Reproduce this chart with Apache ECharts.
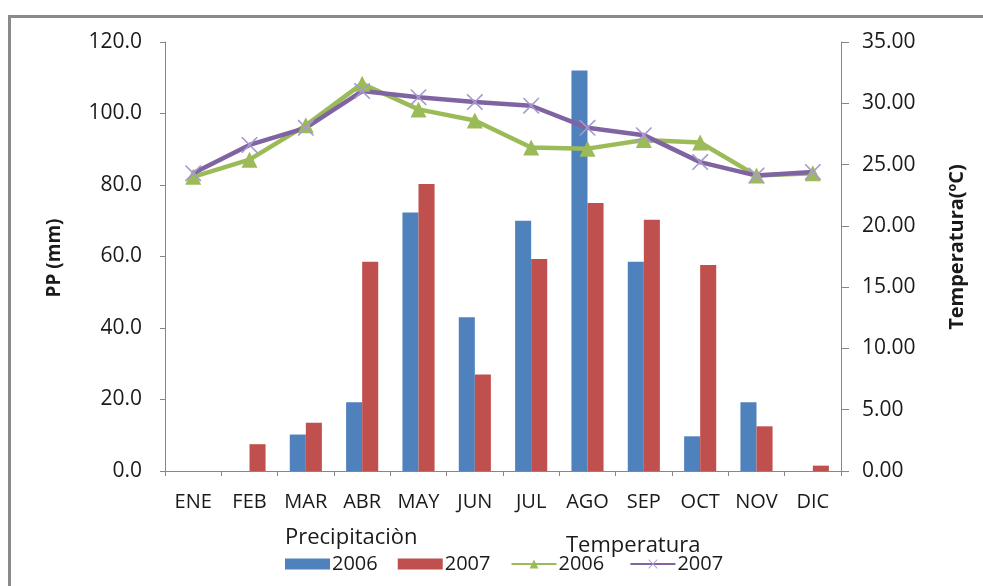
<!DOCTYPE html>
<html>
<head>
<meta charset="utf-8">
<title>Precipitación y Temperatura 2006-2007</title>
<script src="https://cdn.jsdelivr.net/npm/echarts@6/dist/echarts.min.js"></script>
<style>
  html, body { margin: 0; padding: 0; background: #ffffff; }
  #chart { width: 983px; height: 586px; }
</style>
</head>
<body>
<div id="chart"></div>
<script>
// Monthly categories
var months = ['ENE', 'FEB', 'MAR', 'ABR', 'MAY', 'JUN', 'JUL', 'AGO', 'SEP', 'OCT', 'NOV', 'DIC'];

// Precipitation (mm)
var pp2006 = [0, 0, 10.2, 19.2, 72.3, 43.0, 70.0, 112.0, 58.5, 9.7, 19.2, 0];
var pp2007 = [0, 7.5, 13.5, 58.5, 80.3, 27.0, 59.3, 75.0, 70.3, 57.6, 12.5, 1.5];

// Temperature (ºC)
var temp2006 = [24.0, 25.4, 28.2, 31.6, 29.5, 28.6, 26.4, 26.3, 27.0, 26.8, 24.1, 24.3];
var temp2007 = [24.3, 26.6, 28.0, 31.0, 30.5, 30.1, 29.8, 28.0, 27.4, 25.2, 24.1, 24.4];

var FONT = 'Open Sans';
var AXIS_GREY = '#868686';
var TEXT = '#1a1a1a';

// thin "x" marker
var crossPath = 'path://M0,0 L1.4,0 L10,8.6 L18.6,0 L20,0 L20,1.4 L11.4,10 L20,18.6 L20,20 L18.6,20 L10,11.4 L1.4,20 L0,20 L0,18.6 L8.6,10 L0,1.4 Z';

var chart = echarts.init(document.getElementById('chart'));

chart.setOption({
  animation: false,
  backgroundColor: '#ffffff',
  textStyle: { fontFamily: FONT, color: TEXT },
  grid: { left: 165, right: 142, top: 42, bottom: 115 },
  legend: {
    left: 280,
    top: 549,
    itemWidth: 45,
    itemHeight: 11,
    itemGap: 20,
    textStyle: { fontFamily: FONT, fontSize: 20, color: TEXT, padding: [0, 0, 0, -3] },
    data: [
      { name: '2006', icon: 'rect' },
      { name: '2007', icon: 'rect' },
      { name: '2006 ' },
      { name: '2007 ' }
    ]
  },
  xAxis: {
    type: 'category',
    data: months,
    axisLine: { lineStyle: { color: AXIS_GREY, width: 1 } },
    axisTick: { show: true, alignWithLabel: false, length: 5, lineStyle: { color: AXIS_GREY } },
    axisLabel: { margin: 21, fontSize: 20, fontFamily: FONT, color: TEXT },
    splitLine: { show: false }
  },
  yAxis: [
    {
      type: 'value',
      min: 0,
      max: 120,
      interval: 20,
      position: 'left',
      axisLine: { show: true, lineStyle: { color: AXIS_GREY, width: 1 } },
      axisTick: { show: true, length: 5, lineStyle: { color: AXIS_GREY } },
      axisLabel: {
        margin: 23,
        fontSize: 21,
        fontFamily: FONT,
        color: TEXT,
        formatter: function (v) { return v.toFixed(1); }
      },
      splitLine: { show: false }
    },
    {
      type: 'value',
      min: 0,
      max: 35,
      interval: 5,
      position: 'right',
      axisLine: { show: true, lineStyle: { color: AXIS_GREY, width: 1 } },
      axisTick: { show: true, length: 8, lineStyle: { color: AXIS_GREY } },
      axisLabel: {
        margin: 21,
        fontSize: 21,
        fontFamily: FONT,
        color: TEXT,
        formatter: function (v) { return v.toFixed(2); }
      },
      splitLine: { show: false }
    }
  ],
  graphic: [
    {
      type: 'rect',
      silent: true,
      shape: { x: 9.5, y: 16.5, width: 1000, height: 600 },
      style: { fill: 'none', stroke: '#8a8a8a', lineWidth: 3 }
    },
    {
      type: 'text',
      x: 55, y: 258,
      rotation: Math.PI / 2,
      style: {
        text: 'PP (mm)',
        fontFamily: FONT, fontSize: 19, fontWeight: 'bold', fill: TEXT,
        textAlign: 'center', textVerticalAlign: 'middle'
      }
    },
    {
      type: 'text',
      x: 957, y: 247,
      rotation: Math.PI / 2,
      style: {
        text: 'Temperatura(ºC)',
        fontFamily: FONT, fontSize: 20, fontWeight: 'bold', fill: TEXT,
        textAlign: 'center', textVerticalAlign: 'middle'
      }
    },
    {
      type: 'text',
      x: 285, y: 538,
      style: {
        text: 'Precipitaciòn',
        fontFamily: FONT, fontSize: 22, fill: TEXT,
        textAlign: 'left', textVerticalAlign: 'middle'
      }
    },
    {
      type: 'text',
      x: 566, y: 546,
      z: 10,
      style: {
        text: 'Temperatura',
        fontFamily: FONT, fontSize: 22, fill: TEXT,
        textAlign: 'left', textVerticalAlign: 'middle'
      }
    }
  ],
  series: [
    {
      name: '2006',
      type: 'bar',
      yAxisIndex: 0,
      data: pp2006,
      barGap: '0%',
      barCategoryGap: '43%',
      itemStyle: { color: '#4F81BD' }
    },
    {
      name: '2007',
      type: 'bar',
      yAxisIndex: 0,
      data: pp2007,
      barGap: '0%',
      barCategoryGap: '43%',
      itemStyle: { color: '#C0504D' }
    },
    {
      name: '2006 ',
      type: 'line',
      yAxisIndex: 1,
      data: temp2006,
      symbol: 'triangle',
      symbolSize: 16,
      lineStyle: { color: '#9BBB59', width: 4.5 },
      itemStyle: { color: '#9BBB59' }
    },
    {
      name: '2007 ',
      type: 'line',
      yAxisIndex: 1,
      data: temp2007,
      symbol: crossPath,
      symbolSize: 16,
      lineStyle: { color: '#8064A2', width: 4.5 },
      itemStyle: { color: '#a898cf' }
    }
  ]
});
</script>
</body>
</html>
